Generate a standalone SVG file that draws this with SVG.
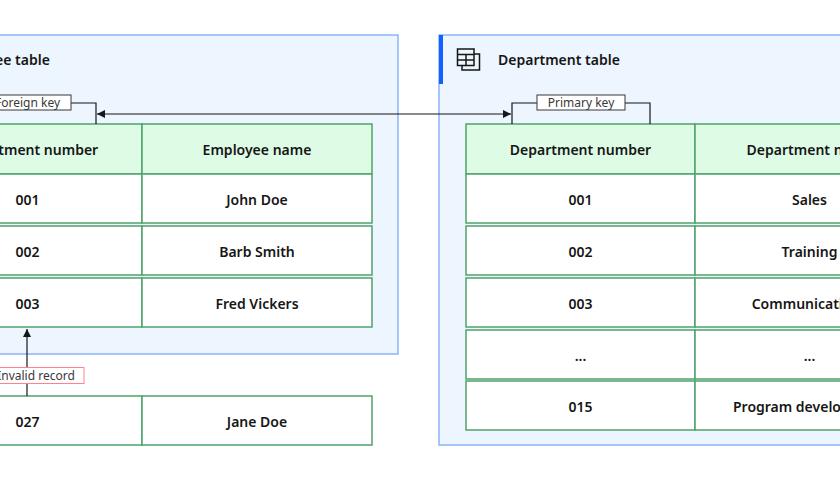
<svg xmlns="http://www.w3.org/2000/svg" width="840" height="480" viewBox="0 0 840 480">
<defs>
<style>
.container{fill:#edf5ff;stroke:#8ab4f8;stroke-width:1.5}
.hdr{fill:#defbe6;stroke:#4fa36a;stroke-width:1.5}
.cell{fill:#ffffff;stroke:#4fa36a;stroke-width:1.5}
.t{font-family:"Noto Sans","Liberation Sans",sans-serif;font-weight:600;font-size:14px;fill:#161616;text-anchor:middle;dominant-baseline:central}
.title{font-family:"Noto Sans","Liberation Sans",sans-serif;font-weight:600;font-size:14px;fill:#161616;dominant-baseline:central}
.lbl{font-family:"Noto Sans","Liberation Sans",sans-serif;font-size:12px;fill:#393939;text-anchor:middle;dominant-baseline:central}
.lblbox{fill:#ffffff;stroke:#393939;stroke-width:1}
.conn{fill:none;stroke:#161616;stroke-width:1.2}
</style>
<marker id="ah" viewBox="0 0 10 10" refX="10" refY="5" markerWidth="8" markerHeight="8" markerUnits="userSpaceOnUse" orient="auto-start-reverse">
<path d="M0,0 L10,5 L0,10 z" fill="#161616"/>
</marker>
</defs>

<g id="employee-table">
<rect class="container" x="-114" y="35" width="512" height="319"/>
<text class="title" x="-55" y="59">Employee table</text>
<rect class="hdr" x="-87" y="124" width="229" height="50"/>
<rect class="hdr" x="142" y="124" width="230" height="50"/>
<text class="t" x="27.5" y="149">Department number</text>
<text class="t" x="257" y="149">Employee name</text>
<rect class="cell" x="-87" y="174" width="229" height="49"/>
<rect class="cell" x="142" y="174" width="230" height="49"/>
<text class="t" x="27.5" y="199">001</text>
<text class="t" x="257" y="199">John Doe</text>
<rect class="cell" x="-87" y="226" width="229" height="49"/>
<rect class="cell" x="142" y="226" width="230" height="49"/>
<text class="t" x="27.5" y="251">002</text>
<text class="t" x="257" y="251">Barb Smith</text>
<rect class="cell" x="-87" y="278" width="229" height="49"/>
<rect class="cell" x="142" y="278" width="230" height="49"/>
<text class="t" x="27.5" y="303">003</text>
<text class="t" x="257" y="303">Fred Vickers</text>
</g>

<g id="invalid-row">
<rect class="cell" x="-87" y="396" width="229" height="49"/>
<rect class="cell" x="142" y="396" width="230" height="49"/>
<text class="t" x="27.5" y="421">027</text>
<text class="t" x="257" y="421">Jane Doe</text>
</g>

<g id="department-table">
<rect class="container" x="439" y="35" width="512" height="410"/>
<rect x="439" y="35" width="4" height="49" fill="#0f62fe"/>
<g fill="none" stroke="#161616" stroke-width="1.5">
<rect x="457.5" y="49" width="16.5" height="16.5"/>
<line x1="457.5" y1="54.5" x2="474" y2="54.5"/>
<line x1="457.5" y1="60" x2="474" y2="60"/>
<line x1="466" y1="54.5" x2="466" y2="65.5"/>
<polyline points="474,54 479.5,54 479.5,70 462,70 462,65.5"/>
</g>
<text class="title" x="498" y="59">Department table</text>
<rect class="hdr" x="466" y="124" width="229" height="50"/>
<rect class="hdr" x="695" y="124" width="229" height="50"/>
<text class="t" x="580.5" y="149">Department number</text>
<text class="t" x="809.5" y="149">Department name</text>
<rect class="cell" x="466" y="174" width="229" height="49"/>
<rect class="cell" x="695" y="174" width="229" height="49"/>
<text class="t" x="580.5" y="199">001</text>
<text class="t" x="809.5" y="199">Sales</text>
<rect class="cell" x="466" y="226" width="229" height="49"/>
<rect class="cell" x="695" y="226" width="229" height="49"/>
<text class="t" x="580.5" y="251">002</text>
<text class="t" x="809.5" y="251">Training</text>
<rect class="cell" x="466" y="278" width="229" height="49"/>
<rect class="cell" x="695" y="278" width="229" height="49"/>
<text class="t" x="580.5" y="303">003</text>
<text class="t" x="809.5" y="303">Communications</text>
<rect class="cell" x="466" y="330" width="229" height="49"/>
<rect class="cell" x="695" y="330" width="229" height="49"/>
<text class="t" x="580.5" y="355">...</text>
<text class="t" x="809.5" y="355">...</text>
<rect class="cell" x="466" y="381" width="229" height="49"/>
<rect class="cell" x="695" y="381" width="229" height="49"/>
<text class="t" x="580.5" y="406">015</text>
<text class="t" x="809.5" y="406">Program development</text>
</g>

<g id="connectors">
<polyline class="conn" points="-41,124 -41,103 -16,103"/>
<polyline class="conn" points="71,103 96,103 96,124"/>
<polyline class="conn" points="512,124 512,103 537,103"/>
<polyline class="conn" points="625,103 650,103 650,124"/>
<line class="conn" x1="97" y1="114" x2="511" y2="114" marker-start="url(#ah)" marker-end="url(#ah)"/>
<line class="conn" x1="27" y1="396" x2="27" y2="329" marker-end="url(#ah)"/>
</g>

<g id="foreign-key-label">
<rect class="lblbox" x="-16" y="95" width="87" height="15"/>
<text class="lbl" x="27.5" y="102.5">Foreign key</text>
</g>
<g id="primary-key-label">
<rect class="lblbox" x="537" y="95" width="88" height="15"/>
<text class="lbl" x="581" y="102.5">Primary key</text>
</g>
<g id="invalid-record-label">
<rect x="-30" y="367.5" width="114" height="16" fill="#ffffff" stroke="#ff8389" stroke-width="1"/>
<text class="lbl" x="36" y="375.5">Invalid record</text>
</g>
</svg>
